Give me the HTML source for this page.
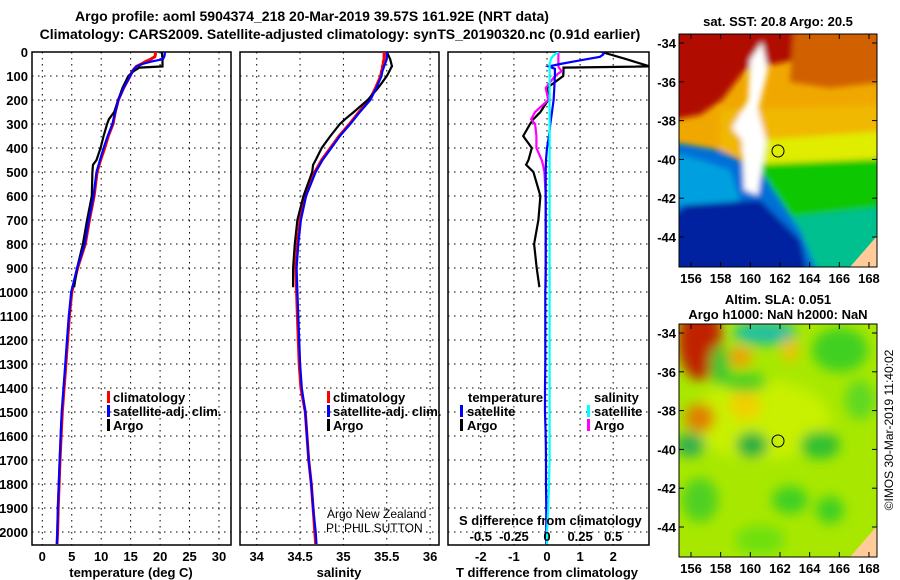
<!DOCTYPE html>
<html><head><meta charset="utf-8"><style>
body{margin:0;background:#fff;}
svg{display:block;font-family:"Liberation Sans",sans-serif;}
.b{font-weight:bold;}
</style></head><body>
<svg id="c" width="900" height="580" viewBox="0 0 900 580">
<defs><filter id="bl" x="-20%" y="-20%" width="140%" height="140%"><feGaussianBlur stdDeviation="3"/></filter>
<filter id="bl2" x="-50%" y="-50%" width="200%" height="200%"><feGaussianBlur stdDeviation="6"/></filter>
<clipPath id="m1"><rect x="679" y="34" width="198" height="233"/></clipPath>
<clipPath id="m2"><rect x="679" y="324" width="198" height="233"/></clipPath>
<clipPath id="p1"><rect x="32" y="52" width="199" height="493"/></clipPath>
<clipPath id="p2"><rect x="240" y="52" width="199" height="493"/></clipPath>
<clipPath id="p3"><rect x="448" y="52" width="201" height="493"/></clipPath></defs>
<text class="b" x="312" y="21" font-size="14" text-anchor="middle">Argo profile: aoml 5904374_218 20-Mar-2019 39.57S 161.92E (NRT data)</text>
<text class="b" x="340" y="39" font-size="14" text-anchor="middle">Climatology: CARS2009. Satellite-adjusted climatology: synTS_20190320.nc (0.91d earlier)</text>

<!-- SST map -->
<g clip-path="url(#m1)">
<rect x="679" y="34" width="198" height="233" fill="#f0a800"/>
<g filter="url(#bl)">
<polygon points="660,10 805,10 795,60 745,70 722,100 700,115 660,122" fill="#b01000"/>
<polygon points="795,10 900,10 900,80 830,88 790,82" fill="#d06000"/>
<polygon points="720,110 900,105 900,145 820,160 760,160 720,150" fill="#f0b800"/>
<polygon points="760,140 900,130 900,165 800,175 760,170" fill="#e0ec00"/>
<polygon points="745,165 900,158 900,200 860,230 800,230 765,210" fill="#10c800"/>
<polygon points="780,218 900,205 900,290 800,290" fill="#00c090"/>
<polygon points="660,140 720,150 760,170 780,200 800,230 825,290 660,290" fill="#0070d8"/>
<polygon points="660,150 700,160 730,170 740,200 700,210 660,200" fill="#00a0e0"/>
<polygon points="685,205 760,200 800,240 812,290 660,290 660,230" fill="#0020a0"/>
<polygon points="750,60 762,42 768,70 758,110 766,140 758,195 744,190 742,140 732,128 748,100" fill="#ffffff"/>
</g>
<polygon points="850,267 877,236 877,267" fill="#ffcc99"/>
<circle cx="778" cy="151" r="6" fill="none" stroke="#000"/>
</g>
<rect x="679" y="34" width="198" height="233" fill="none" stroke="#000"/>
<text class="b" x="778" y="26" font-size="13" text-anchor="middle">sat. SST: 20.8 Argo: 20.5</text>

<!-- SLA map -->
<g clip-path="url(#m2)">
<rect x="679" y="324" width="198" height="233" fill="#a8e800"/>
<g filter="url(#bl2)">
<ellipse cx="760" cy="420" rx="70" ry="40" fill="#c8f000"/>
<ellipse cx="700" cy="340" rx="22" ry="40" fill="#c02000"/>
<ellipse cx="700" cy="418" rx="15" ry="15" fill="#e08000"/>
<ellipse cx="740" cy="357" rx="12" ry="10" fill="#f0a000"/>
<ellipse cx="765" cy="333" rx="32" ry="12" fill="#20c0a0"/>
<ellipse cx="745" cy="405" rx="16" ry="15" fill="#f0d000"/>
<ellipse cx="752" cy="445" rx="16" ry="13" fill="#20b040"/>
<ellipse cx="690" cy="445" rx="15" ry="12" fill="#30b050"/>
<ellipse cx="790" cy="350" rx="8" ry="12" fill="#f0c000"/>
<ellipse cx="840" cy="350" rx="28" ry="22" fill="#40d020"/>
<ellipse cx="820" cy="445" rx="20" ry="14" fill="#30c030"/>
<ellipse cx="790" cy="500" rx="18" ry="14" fill="#40d020"/>
<ellipse cx="700" cy="500" rx="18" ry="22" fill="#50d020"/>
<ellipse cx="830" cy="510" rx="14" ry="14" fill="#40d020"/>
<ellipse cx="745" cy="382" rx="22" ry="10" fill="#50d020"/>
<ellipse cx="720" cy="365" rx="10" ry="20" fill="#40c830"/>
<ellipse cx="860" cy="400" rx="15" ry="20" fill="#60d820"/>
<ellipse cx="760" cy="540" rx="25" ry="15" fill="#70e010"/>
</g>
<polygon points="850,557 877,526 877,557" fill="#ffcc99"/>
<circle cx="778" cy="441" r="6" fill="none" stroke="#000"/>
</g>
<rect x="679" y="324" width="198" height="233" fill="none" stroke="#000"/>
<text class="b" x="778" y="304" font-size="13" text-anchor="middle">Altim. SLA: 0.051</text>
<text class="b" x="778" y="319" font-size="13" text-anchor="middle">Argo h1000: NaN h2000: NaN</text>
<text x="893" y="430" font-size="12" text-anchor="middle" transform="rotate(-90 893 430)">©IMOS 30-Mar-2019 11:40:02</text>
<g id="axes"></g>
</svg>
<script>
const depthLevels=[0,10,20,30,40,50,60,70,80,100,150,200,250,300,350,400,450,500,600,700,800,900,1000,1100,1200,1300,1400,1500,1600,1700,1800,1900,2000,2050];
const tempClim=[19.2,19.2,19.1,18.4,17.5,16.8,16.0,15.6,15.3,14.9,13.8,12.9,12.4,12.0,11.2,10.6,9.9,9.3,8.8,8.0,7.3,6.0,5.0,4.6,4.3,4.0,3.7,3.4,3.2,3.0,2.85,2.7,2.6,2.5];
const tempSat=[20.8,20.8,20.7,20.5,18.5,17.0,16.0,15.6,15.3,14.9,13.8,12.9,12.4,11.9,11.1,10.4,9.8,9.2,8.7,7.9,7.2,5.9,4.9,4.5,4.2,3.9,3.6,3.3,3.1,2.95,2.8,2.65,2.55,2.5];
const argoDepth=[0,30,60,65,80,100,150,200,250,280,300,350,400,450,470,500,600,700,800,900,980];
const tempArgo=[20.3,20.4,20.4,16.5,15.5,14.6,13.6,12.9,12.2,11.3,11.0,10.4,9.9,9.2,8.6,8.5,8.4,7.6,6.9,5.9,5.4];
const salClim=[35.47,35.47,35.47,35.47,35.46,35.46,35.45,35.45,35.44,35.43,35.37,35.3,35.18,35.07,34.95,34.85,34.75,34.67,34.56,34.5,34.47,34.45,34.46,34.47,34.48,34.49,34.51,34.56,34.58,34.6,34.63,34.65,34.67,34.68];
const salSat=[35.5,35.5,35.5,35.5,35.49,35.48,35.47,35.46,35.45,35.44,35.38,35.31,35.19,35.08,34.96,34.86,34.76,34.68,34.57,34.51,34.48,34.46,34.47,34.48,34.49,34.5,34.52,34.56,34.58,34.6,34.63,34.65,34.68,34.69];
const salArgo=[35.5,35.54,35.56,35.55,35.53,35.5,35.4,35.28,35.12,35.02,34.96,34.85,34.75,34.68,34.65,34.64,34.54,34.47,34.44,34.42,34.42];
const tDiffSat=[1.7,1.7,1.6,1.2,0.8,0.4,0.05,0.24,0.24,0.24,0.22,0.2,0.15,0.1,0.06,0.0,-0.03,-0.04,-0.04,-0.04,-0.04,-0.04,-0.05,-0.05,-0.05,-0.05,-0.06,-0.06,-0.04,-0.03,-0.03,-0.02,-0.02,-0.02];
const tDiffArgo=[1.65,2.4,3.1,0.5,0.5,0.49,0.0,0.04,-0.2,-0.41,-0.51,-0.72,-0.46,-0.56,-0.63,-0.41,-0.2,-0.26,-0.39,-0.31,-0.23];
const sDiffSat=[0.086,0.06,0.04,0.03,0.025,0.02,0.02,0.02,0.02,0.02,0.02,0.02,0.02,0.02,0.02,0.02,0.02,0.02,0.02,0.02,0.02,0.02,0.02,0.02,0.02,0.02,0.02,0.02,0.02,0.02,0.015,0.01,0.0,0.0];
const sDiffArgo=[0.086,0.086,0.086,0.09,0.11,0.06,-0.01,0.01,-0.09,-0.12,-0.09,-0.08,-0.08,-0.04,-0.03,-0.02,-0.01,-0.01,-0.01,-0.01,-0.01];
const depthTicks=[0,100,200,300,400,500,600,700,800,900,1000,1100,1200,1300,1400,1500,1600,1700,1800,1900,2000];
const tempTicks=[0,5,10,15,20,25,30];
const salTicks=[34,34.5,35,35.5,36];
const tDiffTicks=[-2,-1,0,1,2];
const sDiffTicks=[-0.5,-0.25,0,0.25,0.5];
const sDiffLabels=["-0.5","-0.25","0","0.25","0.5"];
const latTicks=[-34,-36,-38,-40,-42,-44];
const lonTicks=[156,158,160,162,164,166,168];

const NS="http://www.w3.org/2000/svg";
const G=document.getElementById('axes');
function mk(t,a,txt){const e=document.createElementNS(NS,t);for(const k in a)e.setAttribute(k,a[k]);if(txt!==undefined)e.textContent=txt;G.appendChild(e);return e;}
const yD=d=>52+d*0.24;
const xT=v=>42.3+v*5.89;
const xS=v=>256.7+(v-34)*86.7;
const xTd=v=>547+v*33.1;
const xSd=v=>547+v*132.4;
const yLat1=l=>43+(-34-l)*19.4;
const yLat2=l=>333+(-34-l)*19.4;
const xLon=l=>691+(l-156)*14.83;

const panels=[[32,tempTicks,xT,'p1','temperature-panel'],[240,salTicks,xS,'p2','salinity-panel'],[448,tDiffTicks,xTd,'p3','difference-panel']];
panels.forEach(([x0,ticks,fx,clip,nm])=>{
  depthTicks.forEach(d=>{const l=mk('line',{x1:x0,x2:x0+(clip==='p3'?201:199),y1:yD(d),y2:yD(d),stroke:'#000','stroke-dasharray':'1.5,4.5'});
  
  });
  ticks.forEach(v=>{const l=mk('line',{x1:fx(v),x2:fx(v),y1:52,y2:545,stroke:'#000','stroke-dasharray':'1.5,4.5'});
  
  
  const t=mk('text',{x:fx(v),y:561,'font-size':13,'font-weight':'bold','text-anchor':'middle'},String(v));
  
  });
  const r=mk('rect',{x:x0,y:52,width:clip==='p3'?201:199,height:493,fill:'none',stroke:'#000','stroke-width':1.5});
  
  
});
depthTicks.forEach(d=>{const t=mk('text',{x:28,y:yD(d)+5,'font-size':13,'font-weight':'bold','text-anchor':'end'},String(d));

});
function line(ds,vs,fx,col,clip,nm,w){
  const p=ds.map((d,i)=>fx(vs[i]).toFixed(1)+','+yD(d).toFixed(1)).join(' ');
  const e=mk('polyline',{points:p,fill:'none',stroke:col,'stroke-width':w||2.2,'clip-path':'url(#'+clip+')'});
  
  
}
line(depthLevels,tempClim,xT,'#f00','p1','temp-climatology-line',3);
line(argoDepth,tempArgo,xT,'#000','p1','temp-argo-line');
line(depthLevels,tempSat,xT,'#00f','p1','temp-satellite-line');
line(depthLevels,salClim,xS,'#f00','p2','sal-climatology-line',3);
line(argoDepth,salArgo,xS,'#000','p2','sal-argo-line');
line(depthLevels,salSat,xS,'#00f','p2','sal-satellite-line');
line(argoDepth,tDiffArgo,xTd,'#000','p3','tdiff-argo-line');
line(argoDepth,sDiffArgo,xSd,'#f0f','p3','sdiff-argo-line');
line(depthLevels,tDiffSat,xTd,'#00f','p3','tdiff-satellite-line');
line(depthLevels,sDiffSat,xSd,'#0ff','p3','sdiff-satellite-line');
sDiffTicks.forEach((v,i)=>{const t=mk('text',{x:xSd(v),y:541,'font-size':13,'font-weight':'bold','text-anchor':'middle'},sDiffLabels[i]);

});
function txt(x,y,s,nm,opt){const a=Object.assign({x:x,y:y,'font-size':13,'font-weight':'bold'},opt||{});const t=mk('text',a,s);

}
function bar(x,y,col,nm){const r=mk('rect',{x:x,y:y-11,width:3,height:12,fill:col});

}
[[107,'temp'],[327,'sal']].forEach(([x,p])=>{
 bar(x,402,'#f00',p+'-legend-climatology-swatch');txt(x+6,402,'climatology',p+'-legend-climatology');
 bar(x,416,'#00f',p+'-legend-satellite-swatch');txt(x+6,416,'satellite-adj. clim.',p+'-legend-satellite');
 bar(x,430,'#000',p+'-legend-argo-swatch');txt(x+6,430,'Argo',p+'-legend-argo');
});
txt(468,402,'temperature','diff-legend-temperature-header');
bar(460,416,'#00f','diff-legend-tsat-swatch');txt(467,416,'satellite','diff-legend-tsat');
bar(460,430,'#000','diff-legend-targo-swatch');txt(467,430,'Argo','diff-legend-targo');
txt(594,402,'salinity','diff-legend-salinity-header');
bar(587,416,'#0ff','diff-legend-ssat-swatch');txt(594,416,'satellite','diff-legend-ssat');
bar(587,430,'#f0f','diff-legend-sargo-swatch');txt(594,430,'Argo','diff-legend-sargo');
txt(459,525,'S difference from climatology','sdiff-axis-title');
txt(131,577,'temperature (deg C)','temperature-axis-title',{'text-anchor':'middle'});
txt(339,577,'salinity','salinity-axis-title',{'text-anchor':'middle'});
txt(547,577,'T difference from climatology','tdiff-axis-title',{'text-anchor':'middle'});
txt(327,518,'Argo New Zealand','credit-line-1',{'font-weight':'normal','font-size':12});
txt(326,532,'PI: PHIL SUTTON','credit-line-2',{'font-weight':'normal','font-size':12});
[[yLat1,267,283],[yLat2,557,573]].forEach(([fy,yb,yl],mi)=>{
 latTicks.forEach(l=>{const y=fy(l);
  const a=mk('line',{x1:679,x2:684,y1:y,y2:y,stroke:'#000'});
  const b=mk('line',{x1:872,x2:877,y1:y,y2:y,stroke:'#000'});
  txt(676,y+5,String(l),'map-lat-label',{'text-anchor':'end'});});
 lonTicks.forEach(l=>{const x=xLon(l);
  const a=mk('line',{x1:x,x2:x,y1:yb-233,y2:yb-228,stroke:'#000'});
  const b=mk('line',{x1:x,x2:x,y1:yb-5,y2:yb,stroke:'#000'});
  txt(x,yl,String(l),'map-lon-label',{'text-anchor':'middle'});});
});
</script>
</body></html>
